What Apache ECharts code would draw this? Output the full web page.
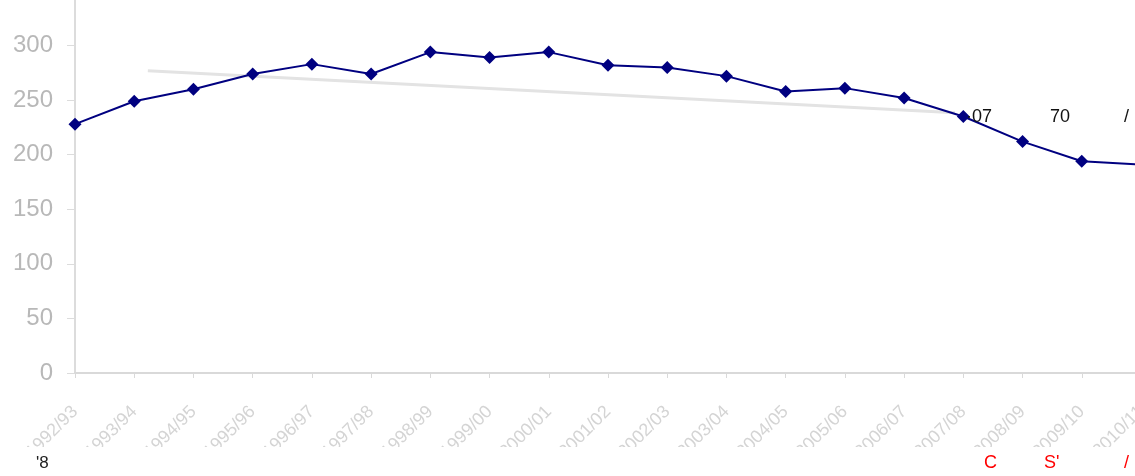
<!DOCTYPE html>
<html>
<head>
<meta charset="utf-8">
<script src="https://cdn.jsdelivr.net/npm/echarts@6/dist/echarts.min.js"></script>
<style>html,body{margin:0;padding:0;background:#fff;}#c{width:1135px;height:476px;}</style>
</head>
<body>
<div id="c"></div>
<script>
const categories = ['1992/93','1993/94','1994/95','1995/96','1996/97','1997/98','1998/99','1999/00','2000/01','2001/02','2002/03','2003/04','2004/05','2005/06','2006/07','2007/08','2008/09','2009/10','2010/11'];
const values = [228, 249, 260, 274, 283, 274, 294, 289, 294, 282, 280, 272, 258, 261, 252, 235, 212, 194, 191];
const trendX = [1.23, 14.86];
const trendY = [277, 238.5];
const yTicks = [0, 50, 100, 150, 200, 250, 300, 350];

const chart = echarts.init(document.getElementById('c'), null, {renderer: 'canvas'});
chart.setOption({
  animation: false,
  backgroundColor: '#fff',
  grid: {left: 75, right: -6, top: -9, bottom: 103, containLabel: false, outerBoundsMode: 'none'},
  xAxis: [{
    type: 'category',
    data: categories,
    boundaryGap: false,
    axisLine: {lineStyle: {color: '#d9d9d9', width: 2}},
    axisTick: {alignWithLabel: true, length: 5, lineStyle: {color: '#d9d9d9', width: 1}},
    axisLabel: {rotate: 45, margin: 36, fontSize: 18, color: '#d4d4d4', fontFamily: 'Liberation Sans, Arial', interval: 0},
    splitLine: {show: false}
  }, {
    type: 'value', min: 0, max: categories.length - 1, show: false
  }],
  yAxis: {
    type: 'value',
    min: yTicks[0], max: yTicks[yTicks.length - 1], interval: 50,
    axisLine: {show: true, lineStyle: {color: '#dcdcdc', width: 2}},
    axisTick: {show: true, length: 8, lineStyle: {color: '#dcdcdc', width: 1}},
    axisLabel: {margin: 22, fontSize: 24, color: '#b8b8b8', fontFamily: 'Liberation Sans, Arial'},
    splitLine: {show: false}
  },
  series: [{
    type: 'line',
    xAxisIndex: 1,
    data: trendX.map((x, i) => [x, trendY[i]]),
    symbol: 'none',
    lineStyle: {color: '#e3e3e3', width: 3},
    z: 1
  }, {
    type: 'line',
    data: values,
    symbol: 'diamond',
    symbolSize: 13,
    lineStyle: {color: '#000080', width: 2},
    itemStyle: {color: '#000080'},
    z: 3
  }],
  graphic: [
    {type: 'rect', shape: {x: 0, y: 447, width: 1135, height: 29}, style: {fill: '#fff'}, z: 100},
    {type: 'text', left: 966, top: 108, style: {text: '·07', fontSize: 18, fill: '#111', font: '18px Liberation Sans'}, z: 101},
    {type: 'text', left: 1050, top: 108, style: {text: '70', fontSize: 18, fill: '#111', font: '18px Liberation Sans'}, z: 101},
    {type: 'text', left: 1124, top: 108, style: {text: '/', fontSize: 18, fill: '#111', font: '18px Liberation Sans'}, z: 101},
    {type: 'text', left: 36, top: 455, style: {text: '\'8', fontSize: 17, fill: '#222', font: '17px Liberation Sans'}, z: 101},
    {type: 'text', left: 984, top: 454, style: {text: 'C', fontSize: 18, fill: '#ff0000', font: '18px Liberation Sans'}, z: 101},
    {type: 'text', left: 1044, top: 454, style: {text: 'S\'', fontSize: 18, fill: '#ff0000', font: '18px Liberation Sans'}, z: 101},
    {type: 'text', left: 1124, top: 454, style: {text: '/', fontSize: 18, fill: '#ff0000', font: '18px Liberation Sans'}, z: 101}
  ]
});
</script>
</body>
</html>
